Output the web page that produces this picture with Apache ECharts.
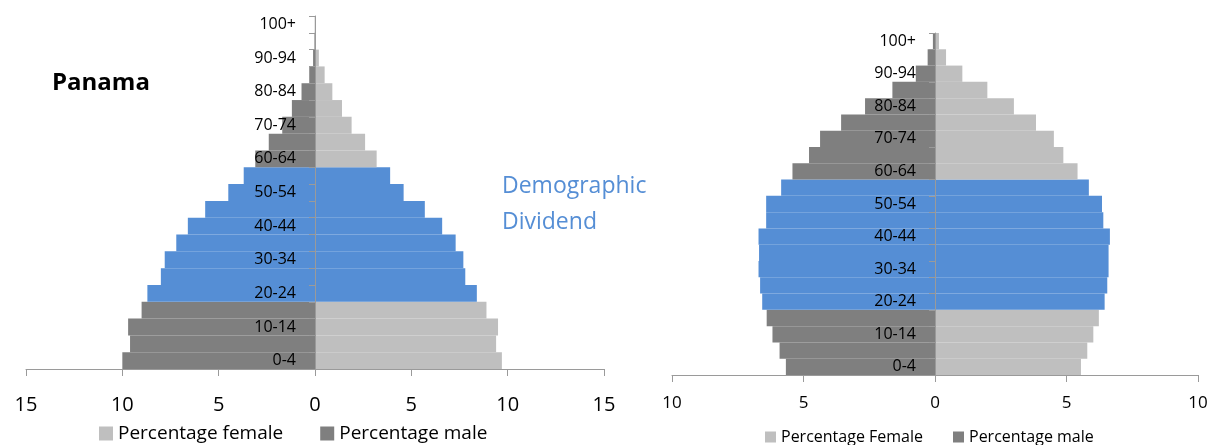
<!DOCTYPE html>
<html>
<head>
<meta charset="utf-8">
<script src="https://cdn.jsdelivr.net/npm/echarts@6/dist/echarts.min.js"></script>
<style>
  html, body { margin: 0; padding: 0; background: #fff; }
  #chart { width: 1210px; height: 445px; }
</style>
</head>
<body>
<div id="chart"></div>
<script>
// age groups, bottom to top
const ageGroups = ['0-4', '5-9', '10-14', '15-19', '20-24', '25-29', '30-34', '35-39', '40-44', '45-49',
  '50-54', '55-59', '60-64', '65-69', '70-74', '75-79', '80-84', '85-89', '90-94', '95-99', '100+']
// working ages highlighted in blue
const dividendGroups = ['20-24', '25-29', '30-34', '35-39', '40-44', '45-49', '50-54', '55-59']

// Panama (left pyramid), percent of population
const panamaMale = [10.0, 9.6, 9.7, 9.0, 8.7, 8.0, 7.8, 7.2, 6.6, 5.7, 4.5, 3.7, 3.1, 2.4, 1.7, 1.2, 0.7, 0.3, 0.1, 0.03, 0.01]
const panamaFemale = [9.7, 9.4, 9.5, 8.9, 8.4, 7.8, 7.7, 7.3, 6.6, 5.7, 4.6, 3.9, 3.2, 2.6, 1.9, 1.4, 0.9, 0.5, 0.2, 0.05, 0.01]

// right pyramid
const otherMale = [5.67, 5.91, 6.18, 6.4, 6.57, 6.65, 6.71, 6.69, 6.71, 6.42, 6.42, 5.85, 5.42, 4.79, 4.37, 3.57, 2.66, 1.62, 0.73, 0.28, 0.08]
const otherFemale = [5.55, 5.79, 6.02, 6.23, 6.45, 6.55, 6.6, 6.6, 6.65, 6.4, 6.35, 5.85, 5.42, 4.88, 4.52, 3.84, 3.0, 1.99, 1.04, 0.42, 0.15]

const leftTicks = [-15, 15]
const rightTicks = [-10, 10]

const FONT = '"Open Sans", sans-serif'
const FEMALE = '#bfbfbf'
const MALE = '#7f7f7f'
const BLUE = '#558ed5'
const AXIS = '#9a9a9a'

const grids = [
  { left: 26, top: 16, width: 578, height: 353 },
  { left: 672, top: 33, width: 526, height: 342 }
]

// male goes to the left (negative), blue for the dividend ages
function toBars(values, sign) {
  return values.map((v, i) => {
    const item = { value: sign * v }
    if (dividendGroups.includes(ageGroups[i])) item.itemStyle = { color: BLUE }
    return item
  })
}

function makeX(gridIndex, range, fontSize, margin) {
  return {
    gridIndex,
    type: 'value',
    min: range[0],
    max: range[1],
    interval: 5,
    splitLine: { show: false },
    axisLine: { show: true, onZero: false, lineStyle: { color: AXIS } },
    axisTick: { show: true, length: 7, lineStyle: { color: AXIS } },
    axisLabel: {
      fontSize,
      margin,
      color: '#000',
      fontFamily: FONT,
      formatter: v => Math.abs(v)
    }
  }
}

// the age axis sits in the middle of each grid (symmetric x range), pulled in with offset
function makeY(gridIndex) {
  return {
    gridIndex,
    type: 'category',
    data: ageGroups,
    z: 10,
    position: 'left',
    offset: -grids[gridIndex].width / 2,
    axisLine: { show: true, onZero: false, lineStyle: { color: AXIS } },
    axisTick: { show: true, interval: 0, length: 6, lineStyle: { color: AXIS } },
    axisLabel: { interval: 1, margin: 19, fontSize: 16, color: '#000', fontFamily: FONT }
  }
}

function makeSeries(name, idx, values, sign, color) {
  return {
    name,
    type: 'bar',
    xAxisIndex: idx,
    yAxisIndex: idx,
    data: toBars(values, sign),
    itemStyle: { color },
    barCategoryGap: 0,
    barGap: '-100%',
    silent: true
  }
}

const chart = echarts.init(document.getElementById('chart'))
chart.setOption({
  animation: false,
  title: [
    {
      text: 'Panama',
      left: 52,
      top: 71,
      padding: 0,
      textStyle: { fontSize: 24, fontWeight: 'bold', color: '#000', fontFamily: FONT }
    },
    {
      text: 'Demographic\nDividend',
      left: 502,
      top: 168,
      padding: 0,
      textStyle: { fontSize: 23, fontWeight: 'normal', color: BLUE, lineHeight: 36, fontFamily: FONT }
    }
  ],
  legend: [
    {
      data: ['Percentage female', 'Percentage male'],
      left: 99,
      top: 424,
      padding: 0,
      itemWidth: 14,
      itemHeight: 14,
      itemGap: 37,
      icon: 'rect',
      selectedMode: false,
      textStyle: { fontSize: 19, color: '#000', fontFamily: FONT }
    },
    {
      data: ['Percentage Female', 'Percentage male'],
      left: 765,
      top: 429,
      padding: 0,
      itemWidth: 11,
      itemHeight: 11,
      itemGap: 30,
      icon: 'rect',
      selectedMode: false,
      textStyle: { fontSize: 16, color: '#000', fontFamily: FONT }
    }
  ],
  grid: grids.map(g => Object.assign({ containLabel: false, outerBoundsMode: 'none' }, g)),
  xAxis: [
    makeX(0, leftTicks, 20, 26),
    makeX(1, rightTicks, 17, 20)
  ],
  yAxis: [makeY(0), makeY(1)],
  series: [
    makeSeries('Percentage male', 0, panamaMale, -1, MALE),
    makeSeries('Percentage female', 0, panamaFemale, 1, FEMALE),
    makeSeries('Percentage male', 1, otherMale, -1, MALE),
    makeSeries('Percentage Female', 1, otherFemale, 1, FEMALE)
  ]
})
</script>
</body>
</html>
